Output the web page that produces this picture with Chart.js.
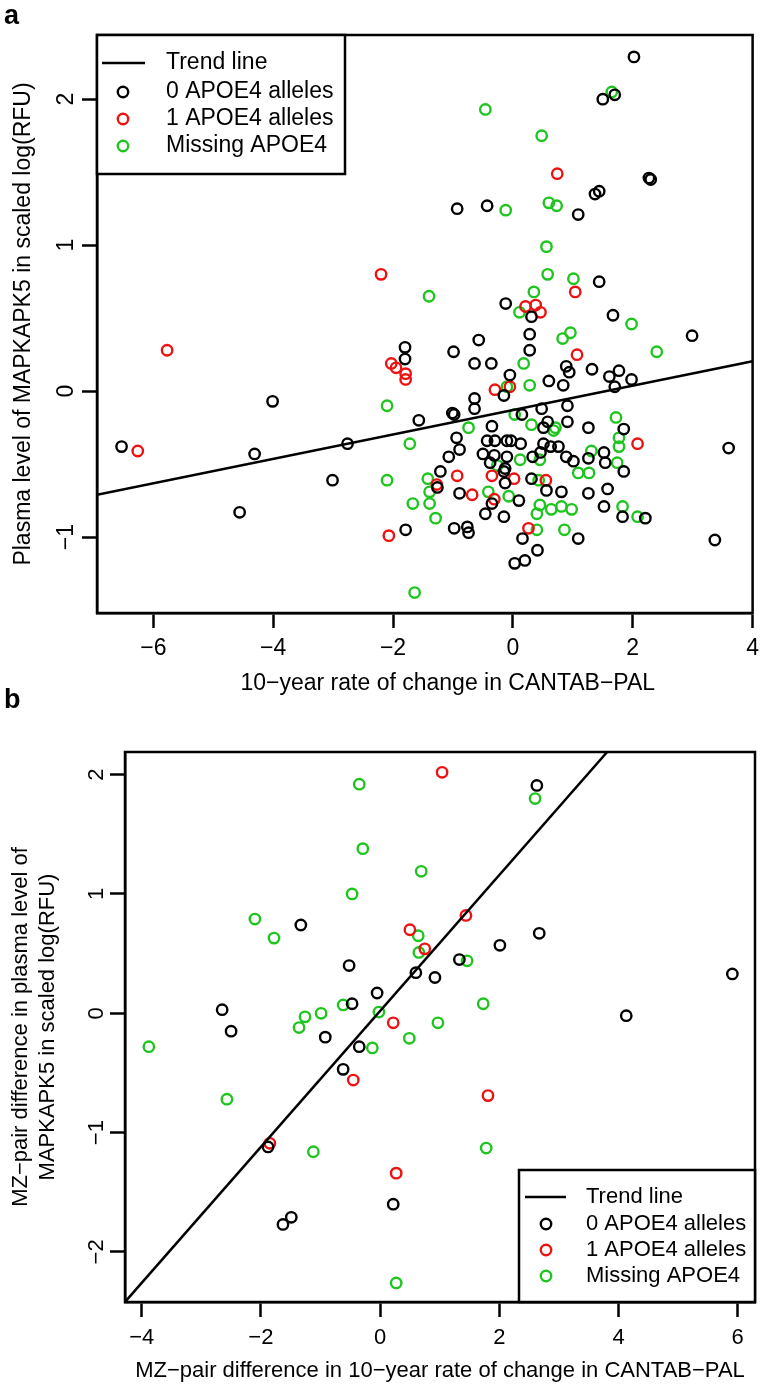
<!DOCTYPE html>
<html>
<head>
<meta charset="utf-8">
<script src="https://cdn.jsdelivr.net/npm/chart.js@4.4.1/dist/chart.umd.min.js"></script>
<style>
body{margin:0;background:#fff;font-family:'Liberation Sans',Arial,sans-serif;}
#wrap{position:relative;width:766px;height:1388px;overflow:hidden;}
.panel{position:absolute;left:0;}
.tag{position:absolute;left:4px;font-weight:bold;font-size:27px;line-height:30px;color:#000;}
</style>
</head>
<body>
<div id="wrap">
  <canvas id="chartA" class="panel" width="766" height="700" style="top:0"></canvas>
  <canvas id="chartB" class="panel" width="766" height="688" style="top:700px"></canvas>
  <div class="tag" style="top:0px">a</div>
  <div class="tag" style="top:684px">b</div>
</div>
<script>
// -------------------- DATA : PANEL A --------------------
const aXTicks = [-6, -4, -2, 0, 2, 4];
const aYTicks = [-1, 0, 1, 2];
const aTrend = [[-6.94, -0.71], [4.0, 0.205]];

const aZero = [
  [2.02,2.29],[1.70,2.03],[1.50,2.00],[2.27,1.46],[2.30,1.45],[1.37,1.35],[1.44,1.37],
  [-0.93,1.25],[-0.43,1.27],[1.09,1.21],[1.44,0.75],[-0.12,0.60],[0.31,0.51],[1.67,0.52],
  [2.99,0.38],[0.28,0.39],[-0.57,0.35],[0.28,0.28],[-0.99,0.27],[-1.80,0.30],[-1.80,0.22],
  [-0.64,0.19],[-0.36,0.19],[0.89,0.17],[0.94,0.13],[1.32,0.15],[1.61,0.10],[1.77,0.14],
  [1.98,0.08],[-0.05,0.11],[0.60,0.07],[0.84,0.04],[-0.15,-0.03],[1.70,0.03],[-0.64,-0.05],
  [-0.64,-0.12],[0.91,-0.10],[0.48,-0.12],[-1.01,-0.15],[-0.98,-0.16],[-1.57,-0.20],[0.15,-0.16],
  [0.51,-0.25],[0.58,-0.21],[0.91,-0.21],[-0.35,-0.24],[1.26,-0.25],[1.85,-0.26],[-0.94,-0.32],
  [-0.89,-0.40],[-0.43,-0.34],[-0.30,-0.34],[0.13,-0.36],[0.51,-0.36],[0.63,-0.38],[0.76,-0.38],
  [-0.10,-0.34],[-0.03,-0.34],[3.60,-0.39],[-1.07,-0.45],[-0.50,-0.43],[-0.31,-0.44],[-0.10,-0.45],
  [0.33,-0.45],[0.46,-0.42],[0.89,-0.45],[1.01,-0.48],[1.26,-0.46],[1.52,-0.42],[1.54,-0.49],
  [-0.38,-0.49],[-0.13,-0.53],[-0.15,-0.55],[-1.21,-0.55],[1.85,-0.55],[-0.13,-0.63],[0.31,-0.60],
  [-1.26,-0.66],[-0.89,-0.70],[0.56,-0.68],[0.81,-0.69],[1.26,-0.70],[1.58,-0.67],[0.10,-0.75],
  [-0.35,-0.77],[1.52,-0.79],[-0.46,-0.84],[-0.15,-0.86],[1.83,-0.86],[2.21,-0.87],[-1.79,-0.95],
  [-0.98,-0.94],[-0.76,-0.93],[-0.74,-0.97],[0.16,-1.01],[1.09,-1.01],[0.41,-1.09],[0.03,-1.18],
  [0.20,-1.16],[3.37,-1.02],[-4.01,-0.07],[-6.53,-0.38],[-4.31,-0.43],[-2.76,-0.36],[-3.01,-0.61],
  [-4.56,-0.83]
];
const aOne = [
  [-2.20,0.80],[0.74,1.49],[1.04,0.68],[0.21,0.58],[0.38,0.59],[0.46,0.54],[1.07,0.25],
  [-2.03,0.19],[-1.95,0.16],[-1.79,0.12],[-1.79,0.08],[-0.30,0.01],[-0.05,0.03],[2.08,-0.36],
  [-0.93,-0.58],[-0.35,-0.58],[0.02,-0.60],[0.55,-0.61],[-1.27,-0.64],[-0.68,-0.71],[-0.31,-0.74],
  [0.26,-0.94],[-5.77,0.28],[-6.26,-0.41],[-2.07,-0.99]
];
const aMissing = [
  [1.65,2.05],[-0.46,1.93],[0.48,1.75],[-0.12,1.24],[0.60,1.29],[0.73,1.27],[0.56,0.99],
  [0.58,0.80],[1.01,0.77],[-1.40,0.65],[0.35,0.68],[0.11,0.54],[1.98,0.46],[0.83,0.36],
  [0.96,0.40],[2.40,0.27],[0.18,0.19],[0.28,0.04],[-0.10,0.03],[0.03,-0.16],[0.31,-0.23],
  [0.68,-0.27],[0.71,-0.25],[-0.74,-0.25],[1.72,-0.18],[-1.72,-0.36],[1.77,-0.32],[1.77,-0.38],
  [1.31,-0.41],[0.12,-0.47],[0.45,-0.47],[-0.26,-0.51],[1.74,-0.49],[1.09,-0.56],[1.27,-0.56],
  [0.43,-0.61],[-1.42,-0.60],[-1.39,-0.69],[-0.41,-0.69],[-0.07,-0.72],[-1.67,-0.77],[-1.39,-0.77],
  [0.45,-0.78],[0.40,-0.84],[0.64,-0.81],[0.81,-0.79],[0.98,-0.81],[1.83,-0.79],[-1.29,-0.87],
  [2.08,-0.86],[0.40,-0.95],[0.86,-0.95],[-1.64,-1.38],[-2.10,-0.10],[-2.10,-0.61]
];

// -------------------- DATA : PANEL B --------------------
const bXTicks = [-4, -2, 0, 2, 4, 6];
const bYTicks = [-2, -1, 0, 1, 2];
const bTrend = [[-4.28, -2.42], [3.81, 2.19]];

const bZero = [
  [-1.33,0.74],[-0.52,0.40],[0.60,0.34],[0.92,0.30],[-0.05,0.17],[-0.47,0.08],[-2.65,0.03],
  [-2.50,-0.15],[-0.92,-0.20],[-0.35,-0.28],[-0.62,-0.47],[-1.88,-1.12],[0.22,-1.60],[-1.63,-1.77],
  [-1.49,-1.71],[2.63,1.91],[1.33,0.45],[2.01,0.57],[2.67,0.67],[5.91,0.33],[4.13,-0.02]
];
const bOne = [
  [0.50,0.70],[0.75,0.54],[0.22,-0.08],[-0.45,-0.56],[-1.85,-1.09],[0.27,-1.34],[1.04,2.02],
  [1.44,0.82],[1.81,-0.69]
];
const bMissing = [
  [-0.35,1.92],[-0.29,1.38],[0.69,1.19],[-0.47,1.00],[-2.10,0.79],[-1.78,0.63],[0.64,0.65],
  [0.65,0.51],[-0.62,0.07],[-0.02,0.01],[-0.99,0.00],[-1.26,-0.03],[-1.36,-0.12],[0.49,-0.21],
  [-3.88,-0.28],[-0.13,-0.29],[-2.57,-0.72],[-1.12,-1.16],[0.27,-2.26],[2.60,1.80],[1.46,0.44],
  [1.73,0.08],[0.97,-0.08],[1.78,-1.13]
];

const legendLabels = ["Trend line", "0 APOE4 alleles", "1 APOE4 alleles", "Missing APOE4"];
const groupColors = ["#000000", "#000000", "#ee1111", "#1ec51e"];

// -------------------- HELPERS --------------------
const FONT = "'Liberation Sans', Arial, Helvetica, sans-serif";
Chart.defaults.font.family = FONT;
Chart.defaults.color = "#000";

const pts = arr => arr.map(([x, y]) => ({x, y}));
const minus = v => String(v).replace("-", "\u2212");

function groupSet(label, color, data){
    return {
        type: "scatter", label, data: pts(data),
        borderColor: color, backgroundColor: "transparent",
        pointRadius: 5.2, pointHoverRadius: 5.2, borderWidth: 2.4, pointStyle: "circle"
    };
}

function trendSet(data){
    return {
        type: "line", label: legendLabels[0], data: pts(data),
        borderColor: "#000", borderWidth: 2.5, pointRadius: 0, fill: false, tension: 0
    };
}

// black box around the plot region
const frameBox = {
    id: "frameBox",
    afterDraw(chart){
        const {ctx, chartArea: a} = chart;
        ctx.save();
        ctx.strokeStyle = "#000";
        ctx.lineWidth = 2.5;
        ctx.strokeRect(a.left, a.top, a.right - a.left, a.bottom - a.top);
        ctx.restore();
    }
};

// R style boxed legend sitting in a corner of the plot
const boxLegend = {
    id: "boxLegend",
    afterDraw(chart, args, o){
        const {ctx, chartArea: a} = chart;
        const left = o.corner === "topleft" ? a.left : a.right - o.w;
        const top = o.corner === "topleft" ? a.top : a.bottom - o.h;
        ctx.save();
        ctx.fillStyle = "#fff";
        ctx.fillRect(left, top, o.w, o.h);
        ctx.strokeStyle = "#000";
        ctx.lineWidth = 2.5;
        ctx.strokeRect(left, top, o.w, o.h);
        ctx.font = o.size + "px " + FONT;
        ctx.textBaseline = "middle";
        chart.data.datasets.forEach((ds, i) => {
            const y = top + o.rows[i];
            ctx.strokeStyle = ds.borderColor;
            if (ds.type === "line") {
                ctx.lineWidth = 2.5;
                ctx.beginPath();
                ctx.moveTo(left + o.line[0], y);
                ctx.lineTo(left + o.line[1], y);
                ctx.stroke();
            } else {
                ctx.lineWidth = 2.4;
                ctx.beginPath();
                ctx.arc(left + o.mark, y, 5.2, 0, Math.PI * 2);
                ctx.stroke();
            }
            ctx.fillStyle = "#000";
            ctx.fillText(ds.label, left + o.text, y);
        });
        ctx.restore();
    }
};

function axes(p){
    return {
        x: {
            type: "linear", min: p.xMin, max: p.xMax,
            afterBuildTicks: s => { s.ticks = p.xTicks.map(v => ({value: v})); },
            afterFit: s => { s.height = p.xH; },
            grid: {drawOnChartArea: false, drawTicks: true, tickLength: 15, tickWidth: 2.5, tickColor: "#000"},
            border: {display: true, color: "#000", width: 2.5},
            ticks: {color: "#000", font: {size: p.size}, padding: p.xPad, maxRotation: 0, callback: minus},
            // en spaces nudge the centred title to the right like the original
            title: {display: true, text: "\u2002".repeat(p.xTitleShift) + p.xTitle, color: "#000", font: {size: p.size}, padding: {top: 0, bottom: p.xTitlePad}}
        },
        y: {
            type: "linear", min: p.yMin, max: p.yMax,
            afterBuildTicks: s => { s.ticks = p.yTicks.map(v => ({value: v})); },
            afterFit: s => { s.width = p.yW; },
            grid: {drawOnChartArea: false, drawTicks: true, tickLength: 15, tickWidth: 2.5, tickColor: "#000"},
            border: {display: true, color: "#000", width: 2.5},
            ticks: {color: "#000", font: {size: p.size}, padding: p.yPad, minRotation: 90, maxRotation: 90, crossAlign: "center", callback: minus},
            title: {display: true, text: p.yTitle, color: "#000", font: {size: p.size, lineHeight: 1.2}, padding: {top: p.yTitlePad, bottom: 0}}
        }
    };
}

function drawPanel(id, p, sets, legendOpts){
    return new Chart(document.getElementById(id), {
        type: "scatter",
        data: {datasets: sets},
        options: {
            responsive: false, animation: false,
            layout: {padding: p.pad},
            plugins: {legend: {display: false}, tooltip: {enabled: false}, boxLegend: legendOpts},
            scales: axes(p)
        },
        plugins: [frameBox, boxLegend]
    });
}

// -------------------- PANEL A --------------------
drawPanel("chartA", {
    xMin: -6.94, xMax: 4.0, yMin: -1.52, yMax: 2.44,
    xTicks: aXTicks, yTicks: aYTicks,
    xTitle: "10\u2212year rate of change in CANTAB\u2212PAL", xTitleShift: 4,
    yTitle: "Plasma level of MAPKAPK5 in scaled log(RFU)",
    size: 23, xH: 87, yW: 97, xPad: 7, yPad: 2, xTitlePad: 3, yTitlePad: 10,
    pad: {left: 0, top: 35, right: 8, bottom: 0}
}, [
    trendSet(aTrend),
    groupSet(legendLabels[1], groupColors[1], aZero),
    groupSet(legendLabels[2], groupColors[2], aOne),
    groupSet(legendLabels[3], groupColors[3], aMissing)
], {corner: "topleft", w: 248, h: 139, rows: [28, 57, 84, 111], line: [5, 48], mark: 26, text: 69, size: 23});

// -------------------- PANEL B --------------------
drawPanel("chartB", {
    xMin: -4.28, xMax: 6.29, yMin: -2.42, yMax: 2.19,
    xTicks: bXTicks, yTicks: bYTicks,
    xTitle: "MZ\u2212pair difference in 10\u2212year rate of change in CANTAB\u2212PAL", xTitleShift: 0,
    yTitle: ["MZ\u2212pair difference in plasma level of", "MAPKAPK5 in scaled log(RFU)"],
    size: 22, xH: 86, yW: 125, xPad: 8, yPad: 1, xTitlePad: 4, yTitlePad: 8,
    pad: {left: 0, top: 52, right: 11, bottom: 0}
}, [
    trendSet(bTrend),
    groupSet(legendLabels[1], groupColors[1], bZero),
    groupSet(legendLabels[2], groupColors[2], bOne),
    groupSet(legendLabels[3], groupColors[3], bMissing)
], {corner: "bottomright", w: 236, h: 132, rows: [27, 54, 80, 106], line: [6, 47], mark: 27, text: 67, size: 22});
</script>
</body>
</html>
